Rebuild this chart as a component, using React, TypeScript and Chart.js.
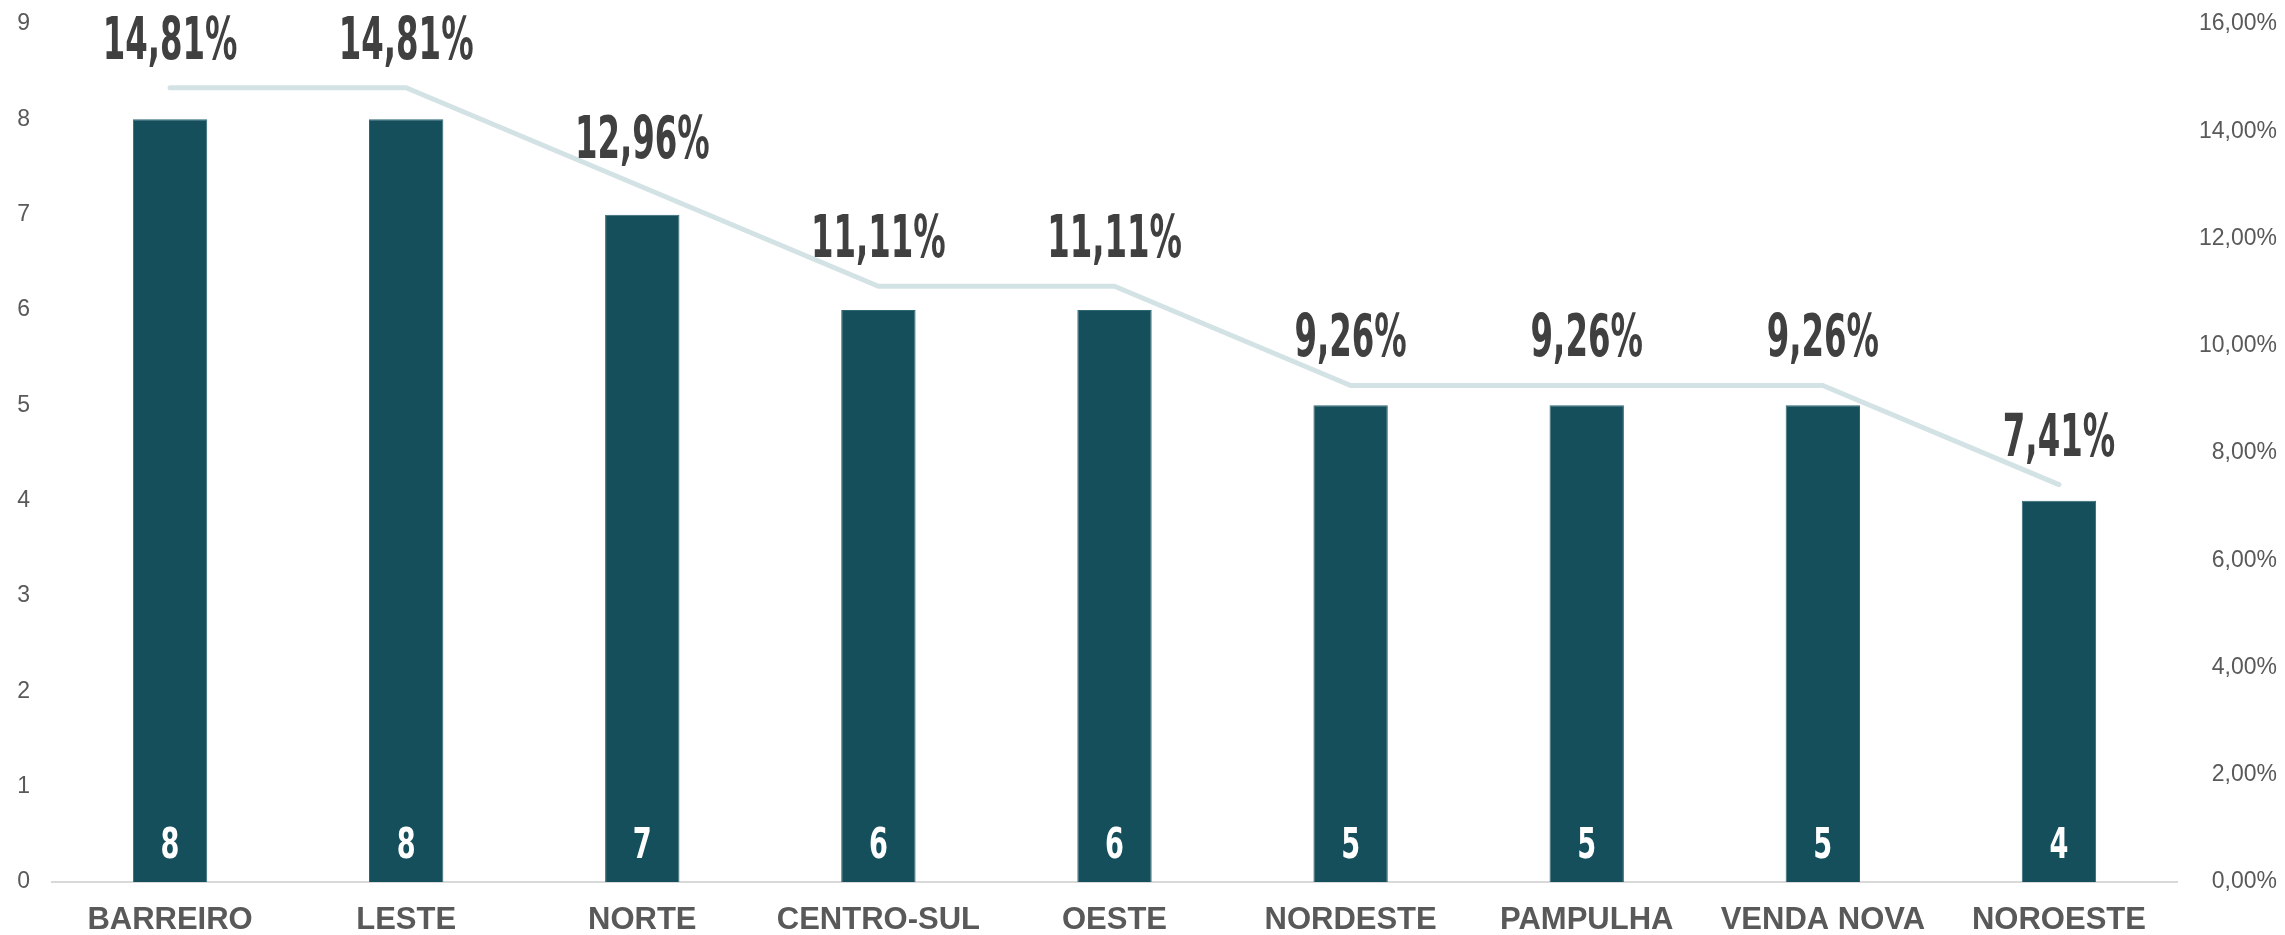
import React, { useEffect, useRef } from "react";
import { Chart, registerables } from "chart.js";

Chart.register(...registerables);

const categories = ["BARREIRO", "LESTE", "NORTE", "CENTRO-SUL", "OESTE", "NORDESTE", "PAMPULHA", "VENDA NOVA", "NOROESTE"];
const counts = [8, 8, 7, 6, 6, 5, 5, 5, 4];
const percents = [14.81, 14.81, 12.96, 11.11, 11.11, 9.26, 9.26, 9.26, 7.41];
const leftTicks = [0, 1, 2, 3, 4, 5, 6, 7, 8, 9];
const rightTicks = [0, 2, 4, 6, 8, 10, 12, 14, 16];

const BAR = "#154f5c";
const LINE = "#d3e2e4";
const TXT = "#404040";
const AXT = "#595959";

const fmtPct = (v: number) => v.toFixed(2).replace(".", ",") + "%";

const labelPlugin = {
  id: "customLabels",
  afterDatasetsDraw(chart: any) {
    const ctx = chart.ctx;
    const lineMeta = chart.getDatasetMeta(1);
    const barMeta = chart.getDatasetMeta(0);
    ctx.save();
    ctx.textAlign = "center";
    ctx.textBaseline = "middle";
    lineMeta.data.forEach((pt: any, i: number) => {
      ctx.save();
      ctx.translate(pt.x, pt.y - 44);
      ctx.scale(0.62, 1);
      ctx.font = "bold 58px 'DejaVu Sans Condensed', 'DejaVu Sans', sans-serif";
      ctx.fillStyle = TXT;
      ctx.fillText(fmtPct(percents[i]), 0, 0);
      ctx.restore();
    });
    const base = chart.scales.y.getPixelForValue(0);
    barMeta.data.forEach((bar: any, i: number) => {
      ctx.save();
      ctx.translate(bar.x, base - 35);
      ctx.scale(0.72, 1);
      ctx.font = "bold 42px 'DejaVu Sans Condensed', 'DejaVu Sans', sans-serif";
      ctx.fillStyle = "#ffffff";
      ctx.fillText(String(counts[i]), 0, 0);
      ctx.restore();
    });
    ctx.restore();
  },
};

export default function App() {
  const ref = useRef<HTMLCanvasElement>(null);
  useEffect(() => {
    document.body.style.margin = "0";
    const chart = new Chart(ref.current!, {
      type: "bar",
      data: {
        labels: categories,
        datasets: [
          {
            type: "bar",
            data: counts,
            backgroundColor: BAR,
            borderColor: "#2f6773",
            borderWidth: 1,
            categoryPercentage: 1,
            barPercentage: 0.315,
            yAxisID: "y",
            order: 2,
          },
          {
            type: "line",
            data: percents,
            borderColor: LINE,
            borderWidth: 5,
            borderCapStyle: "round",
            borderJoinStyle: "round",
            pointRadius: 0,
            tension: 0,
            yAxisID: "y1",
            order: 1,
          } as any,
        ],
      },
      plugins: [labelPlugin],
      options: {
        animation: false,
        responsive: false,
        maintainAspectRatio: false,
        layout: { padding: { top: 24, left: 0, right: 8, bottom: 0 } },
        plugins: { legend: { display: false }, tooltip: { enabled: false } },
        scales: {
          x: {
            grid: { display: false, drawTicks: false },
            border: { display: true, color: "#d9d9d9", width: 2 },
            ticks: {
              color: AXT,
              font: { family: "'Liberation Sans', Arial, sans-serif", size: 31, weight: "bold" },
              padding: 20,
              maxRotation: 0,
              autoSkip: false,
            },
            afterFit: (s: any) => {
              s.height = 53;
              s.paddingLeft = 0;
              s.paddingRight = 0;
            },
          },
          y: {
            position: "left",
            min: 0,
            max: 9,
            afterBuildTicks: (s: any) => {
              s.ticks = leftTicks.map((v) => ({ value: v }));
            },
            grid: { display: false, drawTicks: false },
            border: { display: false },
            ticks: {
              color: AXT,
              font: { family: "'Liberation Sans', Arial, sans-serif", size: 23 },
              padding: 22,
            },
            afterFit: (s: any) => {
              s.width = 52;
              s.paddingTop = 0;
              s.paddingBottom = 0;
            },
          },
          y1: {
            position: "right",
            min: 0,
            max: 16,
            afterBuildTicks: (s: any) => {
              s.ticks = rightTicks.map((v) => ({ value: v }));
            },
            grid: { display: false, drawTicks: false },
            border: { display: false },
            ticks: {
              color: AXT,
              font: { family: "'Liberation Sans', Arial, sans-serif", size: 23 },
              padding: 20,
              crossAlign: "far",
              callback: (v: any) => fmtPct(Number(v)),
            },
            afterFit: (s: any) => {
              s.width = 100;
              s.paddingTop = 0;
              s.paddingBottom = 0;
            },
          },
        },
      } as any,
    });
    return () => chart.destroy();
  }, []);
  return (
    <div style={{ position: "absolute", left: 0, top: 0, width: 2285, height: 935, background: "#fff" }}>
      <canvas ref={ref} width={2285} height={935} style={{ width: 2285, height: 935 }} />
    </div>
  );
}
